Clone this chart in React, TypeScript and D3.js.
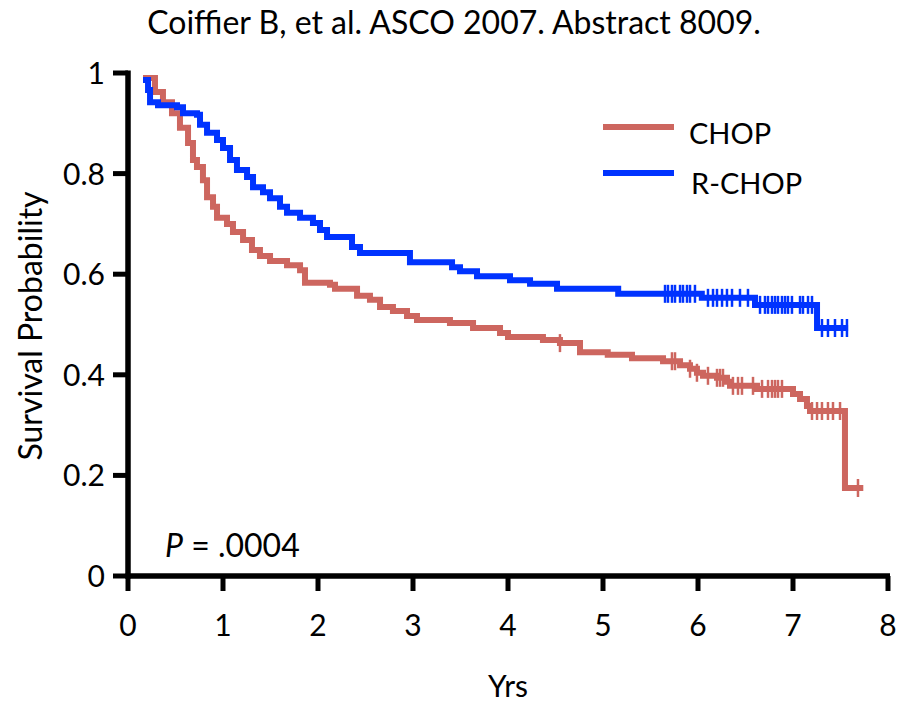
import React from 'react';
import * as d3 from 'd3';

const TITLE = 'Coiffier B, et al. ASCO 2007. Abstract 8009.';
const X_LABEL = 'Yrs';
const Y_LABEL = 'Survival Probability';
const P_TEXT = ' = .0004';
const X_TICKS = [0, 1, 2, 3, 4, 5, 6, 7, 8];
const Y_TICKS = [0, 0.2, 0.4, 0.6, 0.8, 1];
const Y_TICK_LABELS = ['0', '0.2', '0.4', '0.6', '0.8', '1'];
const SERIES_NAMES = ['CHOP', 'R-CHOP'];

const CHOP_T = [0.158, 0.284, 0.368, 0.463, 0.547, 0.632, 0.684, 0.726, 0.789, 0.832, 0.895, 0.937, 1.042, 1.105, 1.211, 1.305, 1.389, 1.495, 1.674, 1.811, 1.863, 2.126, 2.179, 2.411, 2.547, 2.653, 2.789, 2.937, 3.042, 3.389, 3.632, 3.916, 4.0, 4.368, 4.547, 4.758, 5.05, 5.305, 5.632, 5.811, 5.916, 5.989, 6.053, 6.2, 6.305, 6.337, 6.621, 7.0, 7.074, 7.147, 7.179, 7.547];
const CHOP_S = [0.99, 0.962, 0.942, 0.92, 0.891, 0.861, 0.827, 0.813, 0.787, 0.753, 0.734, 0.712, 0.7, 0.684, 0.668, 0.648, 0.636, 0.626, 0.618, 0.608, 0.583, 0.579, 0.571, 0.557, 0.549, 0.535, 0.527, 0.517, 0.509, 0.503, 0.493, 0.483, 0.475, 0.469, 0.463, 0.445, 0.44, 0.433, 0.427, 0.419, 0.412, 0.404, 0.398, 0.394, 0.386, 0.378, 0.372, 0.362, 0.352, 0.338, 0.328, 0.175];
const CHOP_END = 7.74;
const CHOP_CENSOR = [4.547, 5.726, 5.758, 5.916, 5.989, 6.105, 6.2, 6.232, 6.263, 6.368, 6.421, 6.463, 6.579, 6.674, 6.737, 6.779, 6.811, 6.842, 6.884, 7.2, 7.253, 7.305, 7.368, 7.421, 7.495, 7.684];

const RCHOP_T = [0.158, 0.211, 0.232, 0.316, 0.516, 0.579, 0.726, 0.758, 0.832, 0.937, 1.0, 1.074, 1.147, 1.253, 1.316, 1.421, 1.495, 1.6, 1.674, 1.811, 1.947, 2.021, 2.095, 2.358, 2.442, 2.968, 3.411, 3.495, 3.674, 4.021, 4.232, 4.516, 5.16, 6.04, 6.6, 7.253];
const RCHOP_S = [0.986, 0.966, 0.942, 0.936, 0.932, 0.92, 0.917, 0.897, 0.881, 0.867, 0.851, 0.827, 0.807, 0.793, 0.773, 0.763, 0.751, 0.734, 0.722, 0.712, 0.702, 0.688, 0.674, 0.654, 0.642, 0.624, 0.614, 0.606, 0.596, 0.588, 0.581, 0.571, 0.561, 0.553, 0.539, 0.493];
const RCHOP_END = 7.58;
const RCHOP_CENSOR = [5.653, 5.684, 5.726, 5.758, 5.811, 5.842, 5.884, 5.916, 5.968, 6.105, 6.158, 6.2, 6.253, 6.305, 6.358, 6.442, 6.526, 6.653, 6.705, 6.737, 6.779, 6.811, 6.842, 6.884, 6.916, 6.947, 6.989, 7.074, 7.105, 7.158, 7.2, 7.305, 7.368, 7.442, 7.516, 7.568];

const RED = '#CD665F';
const BLUE = '#0033FF';
const FONT = 'Lato, "Open Sans", sans-serif';

function survAt(ts: number[], ss: number[], t: number) {
  let s = ss[0];
  for (let i = 0; i < ts.length; i++) if (ts[i] <= t + 1e-9) s = ss[i];
  return s;
}

export default function App() {
  const W = 898, H = 703;
  const x = d3.scaleLinear().domain([0, 8]).range([128, 888]);
  const y = d3.scaleLinear().domain([0, 1]).range([576, 73]);
  const line = d3.line<[number, number]>().x(d => x(d[0])).y(d => y(d[1])).curve(d3.curveStepAfter);

  const series = [
    { name: SERIES_NAMES[0], ts: CHOP_T, ss: CHOP_S, end: CHOP_END, cens: CHOP_CENSOR, color: RED },
    { name: SERIES_NAMES[1], ts: RCHOP_T, ss: RCHOP_S, end: RCHOP_END, cens: RCHOP_CENSOR, color: BLUE },
  ];

  return (
    <svg width={W} height={H} style={{ position: 'absolute', left: 0, top: 0, background: '#fff' }} fontFamily={FONT}>
      <rect x={0} y={0} width={W} height={H} fill="#fff" />
      <text x={454} y={34} textAnchor="middle" fontSize={32} fill="#000">{TITLE}</text>

      {series.map(s => {
        const pts: [number, number][] = s.ts.map((t, i) => [t, s.ss[i]] as [number, number]);
        pts.push([s.end, s.ss[s.ss.length - 1]]);
        return (
          <g key={s.name}>
            <path d={line(pts) || ''} fill="none" stroke={s.color} strokeWidth={6} strokeLinejoin="miter" />
            {s.cens.map((c, i) => {
              const v = survAt(s.ts, s.ss, c);
              return <line key={i} x1={x(c)} x2={x(c)} y1={y(v) - 9} y2={y(v) + 9} stroke={s.color} strokeWidth={2.5} />;
            })}
          </g>
        );
      })}

      {/* axes */}
      <line x1={x(0)} x2={x(0)} y1={y(1) - 2.5} y2={y(0) + 2.5} stroke="#000" strokeWidth={5.5} />
      <line x1={x(0) - 2.5} x2={x(8) + 2} y1={y(0)} y2={y(0)} stroke="#000" strokeWidth={5.5} />
      {Y_TICKS.map((t, i) => (
        <g key={'y' + i}>
          <line x1={x(0) - 15} x2={x(0)} y1={y(t)} y2={y(t)} stroke="#000" strokeWidth={5} />
          <text x={105} y={y(t) + 11} textAnchor="end" fontSize={30} fill="#000">{Y_TICK_LABELS[i]}</text>
        </g>
      ))}
      {X_TICKS.map((t, i) => (
        <g key={'x' + i}>
          <line x1={x(t)} x2={x(t)} y1={y(0)} y2={y(0) + 15} stroke="#000" strokeWidth={5} />
          <text x={x(t)} y={636} textAnchor="middle" fontSize={30} fill="#000">{String(t)}</text>
        </g>
      ))}
      <text x={508} y={697} textAnchor="middle" fontSize={30} fill="#000">{X_LABEL}</text>
      <text transform="translate(42,326) rotate(-90)" textAnchor="middle" fontSize={32} fill="#000">{Y_LABEL}</text>

      {/* legend */}
      {series.map((s, i) => (
        <g key={'lg' + i}>
          <line x1={603} x2={674} y1={127 + i * 46} y2={127 + i * 46} stroke={s.color} strokeWidth={6} />
          <text x={689 + i * 2} y={144 + i * 50} fontSize={29} fill="#000">{s.name}</text>
        </g>
      ))}

      <text x={165} y={557} fontSize={32} fill="#000">
        <tspan fontStyle="italic">P</tspan>{P_TEXT}
      </text>
    </svg>
  );
}
